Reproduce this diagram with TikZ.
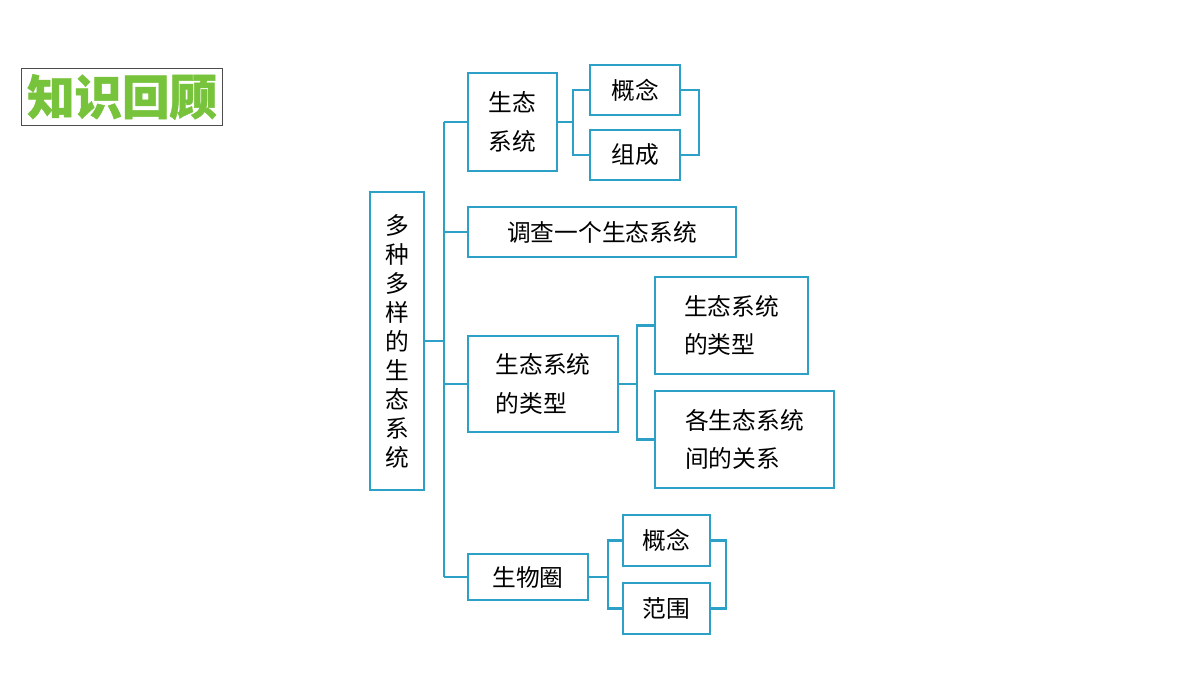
\documentclass[tikz,border=0pt]{standalone}
\usepackage{fontspec}
\setmainfont{Noto Sans CJK SC}
\usetikzlibrary{calc}
\definecolor{lineblue}{RGB}{45,160,200}
\definecolor{titlegreen}{RGB}{120,195,60}
\tikzset{
  box/.style={draw=lineblue,line width=1.2pt,inner sep=0pt,align=left,font=\fontsize{13.5}{22}\selectfont},
  link/.style={draw=lineblue,line width=1.2pt}
}
\begin{document}
\begin{tikzpicture}[x=0.02cm,y=-0.02cm]
    \useasboundingbox (0,0) rectangle (1200,675);
    % title
    \node[font=\fontsize{27}{27}\selectfont\bfseries,text=titlegreen,draw=black!70,line width=0pt] (title) at (122,97) {\addfontfeature{FakeBold=1}知识回顾};
    % boxes
    \node[box,minimum width=1.08cm,minimum height=5.96cm,align=center,font=\fontsize{13.5}{16.5}\selectfont] (main) at (397,341) {多\\种\\多\\样\\的\\生\\态\\系\\统};
    \node[box,minimum width=1.78cm,minimum height=1.96cm] (eco) at (512.5,122) {生态\\系统};
    \node[box,minimum width=1.8cm,minimum height=1cm] (con1) at (635,90) {概念};
    \node[box,minimum width=1.8cm,minimum height=1cm] (comp) at (635,155) {组成};
    \node[box,minimum width=5.36cm,minimum height=1cm] (survey) at (602,232) {调查一个生态系统};
    \node[box,minimum width=3cm,minimum height=1.92cm] (type) at (543,384) {生态系统\\的类型};
    \node[box,minimum width=3.06cm,minimum height=1.94cm] (type2) at (731.5,325.5) {生态系统\\的类型};
    \node[box,minimum width=3.58cm,minimum height=1.94cm] (rel) at (744.5,439.5) {各生态系统\\间的关系};
    \node[box,minimum width=2.4cm,minimum height=0.92cm] (bio) at (528,577) {生物圈};
    \node[box,minimum width=1.74cm,minimum height=1.02cm] (con2) at (666.5,540.5) {概念};
    \node[box,minimum width=1.74cm,minimum height=1.02cm] (range) at (666.5,608.5) {范围};
    % trunk
    \coordinate (t) at (444,0);
    \draw[link] (main.east) -- (main.east -| t);
    \draw[link] (eco.west -| t) -- (bio.west -| t);
    \foreach \n in {eco,survey,type,bio}
      \draw[link] (\n.west -| t) -- (\n.west);
    % brackets
    \draw[link] (eco.east) -- ++(15,0);
    \draw[link] (con1.west) -| ($(eco.east)+(15,0)$) |- (comp.west);
    \draw[link] (con1.east) -- ++(18,0) |- (comp.east);
    \draw[link] (type.east) -- ++(18,0);
    \draw[link] (type2.west) -| ($(type.east)+(18,0)$) |- (rel.west);
    \draw[link] (bio.east) -- ++(19,0);
    \draw[link] (con2.west) -| ($(bio.east)+(19,0)$) |- (range.west);
    \draw[link] (con2.east) -- ++(15,0) |- (range.east);
\end{tikzpicture}
\end{document}
